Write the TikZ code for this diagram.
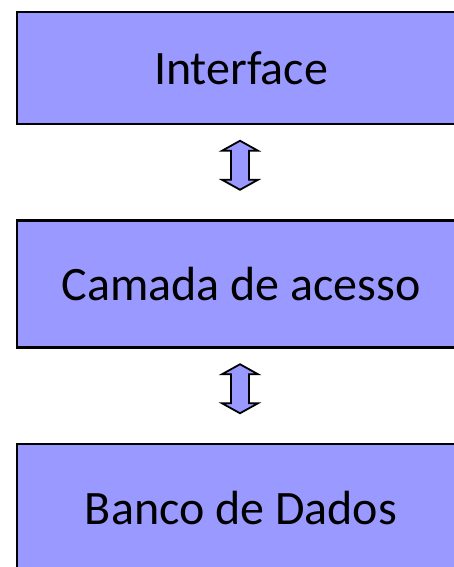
\documentclass[tikz,border=0pt]{standalone}
\usepackage{fontspec}
\setmainfont{Carlito}
\usetikzlibrary{positioning}
\definecolor{layerblue}{HTML}{9999FF}

\begin{document}
\begin{tikzpicture}[x=1pt,y=1pt,
    every node/.style={font=\fontsize{48}{58}\selectfont},
    layer/.style={draw, line width=2.5pt, fill=layerblue, minimum width=448pt, inner sep=0pt},
    updown/.style={draw, line width=1.8pt, fill=layerblue}]
    \useasboundingbox (0,0) rectangle (453,-567);
    % the three layers
    \node[layer, minimum height=112pt] (iface) at (241,-68) {Interface};
    \node[layer, minimum height=127pt, below=94pt of iface] (access) {Camada de acesso};
    \node[layer, minimum height=128pt, below=94pt of access] (bank) {Banco de Dados};
    % arrows between them
    \coordinate (up1) at ([xshift=-1pt,yshift=-40pt]iface.south);
    \coordinate (up2) at ([xshift=-1pt,yshift=-40pt]access.south);
    \foreach \a in {up1,up2}
        \draw[updown] (\a) ++(0,24.5) -- ++(-18,-10) -- ++(9,0) -- ++(0,-29) -- ++(-9,0)
            -- ++(18,-10) -- ++(18,10) -- ++(-9,0) -- ++(0,29) -- ++(9,0) -- cycle;
\end{tikzpicture}
\end{document}
